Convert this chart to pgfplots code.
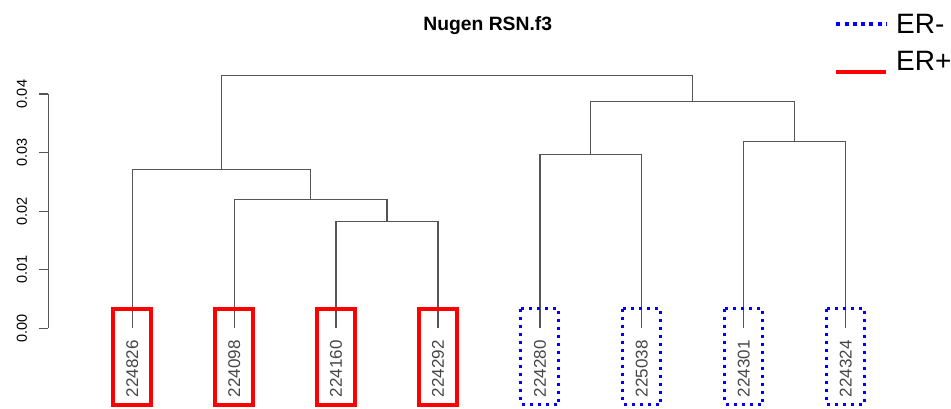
\documentclass[border=0pt]{standalone}
\usepackage{pgfplots}
\pgfplotsset{compat=1.18}
\usepackage{fontspec}
\setmainfont{Liberation Sans}
\definecolor{dendro}{RGB}{85,85,85}
\definecolor{erblue}{RGB}{0,0,255}
\definecolor{erred}{RGB}{255,0,0}
\definecolor{labgray}{RGB}{70,70,70}
\begin{document}
\begin{tikzpicture}
\useasboundingbox (-48.3bp,-80.7bp) rectangle (902.7bp,328.3bp);
\begin{axis}[
  at={(0,0)}, anchor=south west,
  scale only axis, width=848.3bp, height=234.3bp,
  xmin=0.176, xmax=8.5, ymin=0, ymax=0.04,
  clip=false,
  axis x line*=bottom, axis y line*=left,
  x axis line style={draw=none},
  y axis line style={-, draw=dendro, line width=1.2bp},
  xtick={1,2,3,4,5,6,7,8},
  xticklabels={224826,224098,224160,224292,224280,225038,224301,224324},
  major x tick style={draw=none},
  xticklabel style={rotate=90, anchor=east, inner sep=3bp, text=labgray,
    font=\fontsize{17bp}{19bp}\selectfont},
  ytick={0,0.01,0.02,0.03,0.04},
  tick align=outside,
  major tick length=9bp,
  major y tick style={draw=dendro, line width=1.2bp},
  yticklabel style={rotate=90, anchor=south, inner sep=12bp,
    font=\fontsize{14.5bp}{16bp}\selectfont,
    /pgf/number format/.cd, fixed, fixed zerofill, precision=2, assume math mode=true},
  scaled y ticks=false,
  title={Nugen RSN.f3},
  title style={at={(0.518,1.2646)}, anchor=center, font=\bfseries\fontsize{19.3bp}{21bp}\selectfont},
  legend image code/.code={\draw[#1] (0bp,0bp) -- (50bp,0bp); \path (56bp,0bp);},
  legend style={draw=none, fill=none, at={(0.9227,1.3595)}, anchor=north west,
    font=\fontsize{28bp}{30bp}\selectfont, row sep=13bp,
    nodes={inner sep=2bp}},
  legend cell align=left,
  dend/.style={draw=dendro, line width=1.2bp, mark=none, forget plot},
  redbox/.style={draw=erred, line width=4bp, mark=none, forget plot, line join=miter},
  bluebox/.style={draw=erblue, line width=3bp, dash pattern=on 3bp off 5bp, mark=none, forget plot},
]
% dendrogram merges
\addplot[dend] coordinates {(3,0) (3,0.0183) (4,0.0183) (4,0)};
\addplot[dend] coordinates {(2,0) (2,0.0220) (3.5,0.0220) (3.5,0.0183)};
\addplot[dend] coordinates {(1,0) (1,0.0271) (2.75,0.0271) (2.75,0.0220)};
\addplot[dend] coordinates {(5,0) (5,0.0297) (6,0.0297) (6,0)};
\addplot[dend] coordinates {(7,0) (7,0.0319) (8,0.0319) (8,0)};
\addplot[dend] coordinates {(5.5,0.0297) (5.5,0.0387) (7.5,0.0387) (7.5,0.0319)};
\addplot[dend] coordinates {(1.875,0.0271) (1.875,0.0432) (6.5,0.0432) (6.5,0.0387)};
% label boxes
\addplot[redbox] coordinates {(0.8155,0.00334) (1.1845,0.00334) (1.1845,-0.01304) (0.8155,-0.01304)} --cycle;
\addplot[redbox] coordinates {(1.8155,0.00334) (2.1845,0.00334) (2.1845,-0.01304) (1.8155,-0.01304)} --cycle;
\addplot[redbox] coordinates {(2.8155,0.00334) (3.1845,0.00334) (3.1845,-0.01304) (2.8155,-0.01304)} --cycle;
\addplot[redbox] coordinates {(3.8155,0.00334) (4.1845,0.00334) (4.1845,-0.01304) (3.8155,-0.01304)} --cycle;
\addplot[bluebox] coordinates {(4.814,0.00334) (5.186,0.00334) (5.186,-0.01304) (4.814,-0.01304)} --cycle;
\addplot[bluebox] coordinates {(5.814,0.00334) (6.186,0.00334) (6.186,-0.01304) (5.814,-0.01304)} --cycle;
\addplot[bluebox] coordinates {(6.814,0.00334) (7.186,0.00334) (7.186,-0.01304) (6.814,-0.01304)} --cycle;
\addplot[bluebox] coordinates {(7.814,0.00334) (8.186,0.00334) (8.186,-0.01304) (7.814,-0.01304)} --cycle;
% legend
\addlegendimage{erblue, line width=4bp, dash pattern=on 4bp off 4.3bp}
\addlegendentry{ER-}
\addlegendimage{erred, line width=4bp, yshift=-10bp}
\addlegendentry{ER+}
\end{axis}
\end{tikzpicture}
\end{document}
